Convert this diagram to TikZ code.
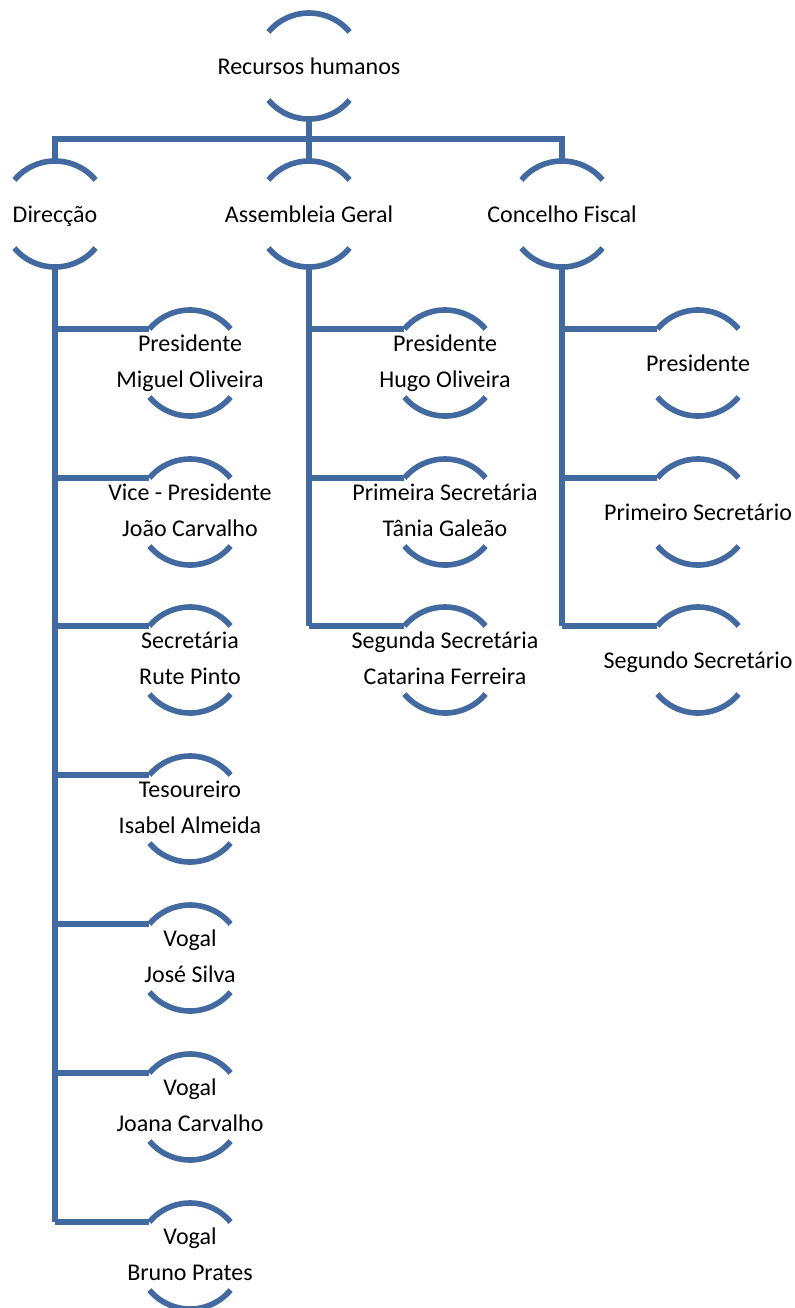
\documentclass[tikz,border=0pt]{standalone}
\usepackage{fontspec}
\setmainfont{Carlito}
\usepackage{tikz}
\usetikzlibrary{positioning}
\definecolor{blue}{RGB}{66,106,160}
\newcommand{\midstrut}{\rule[-2pt]{0pt}{12.6pt}}

\begin{document}
\begin{tikzpicture}[x=0.5pt, y=0.5pt,
  line/.style={blue, line width=2.8pt},
  circ/.style={circle, inner sep=0pt, outer sep=0pt, minimum size=53pt},
  txt/.style={label={[align=center, inner sep=0pt, font=\fontsize{12}{18}\selectfont,
      execute at begin node=\midstrut, execute at end node=\midstrut]center:#1}}]
\useasboundingbox (0,0) rectangle (795,-1308);

% top
\node [circ, txt=Recursos humanos] (rh) at (309,-66) {};
\coordinate (bar) at (309,-139);

% second level
\node [circ, txt=Direcção] (dir) at (55,-214) {};
\node [circ, txt=Assembleia Geral] (ag) at (309,-214) {};
\node [circ, txt=Concelho Fiscal] (cf) at (562,-214) {};

% direccao
\node [circ, txt={Presidente\\Miguel Oliveira}] (dir1) at (190,-363) {};
\node [circ, txt={Vice - Presidente\\João Carvalho}] (dir2) at (190,-512) {};
\node [circ, txt={Secretária\\Rute Pinto}] (dir3) at (190,-660) {};
\node [circ, txt={Tesoureiro\\Isabel Almeida}] (dir4) at (190,-809) {};
\node [circ, txt={Vogal\\José Silva}] (dir5) at (190,-958) {};
\node [circ, txt={Vogal\\Joana Carvalho}] (dir6) at (190,-1107) {};
\node [circ, txt={Vogal\\Bruno Prates}] (dir7) at (190,-1256) {};

% assembleia
\node [circ, txt={Presidente\\Hugo Oliveira}] (ag1) at (445,-363) {};
\node [circ, txt={Primeira Secretária\\Tânia Galeão}] (ag2) at (445,-512) {};
\node [circ, txt={Segunda Secretária\\Catarina Ferreira}] (ag3) at (445,-660) {};

% concelho
\node [circ, txt=Presidente] (cf1) at (698,-363) {};
\node [circ, txt=Primeiro Secretário] (cf2) at (698,-512) {};
\node [circ, txt=Segundo Secretário] (cf3) at (698,-660) {};

% arcs
\foreach \n in {rh,dir,ag,cf,dir1,dir2,dir3,dir4,dir5,dir6,dir7,ag1,ag2,ag3,cf1,cf2,cf3}
  \draw [line] (\n.40) arc[start angle=40, end angle=140, radius=26.5pt]
               (\n.220) arc[start angle=220, end angle=320, radius=26.5pt];

% connectors
\draw [line] (rh.south) -- (bar);
\draw [line] (dir.north) |- (bar) -| (cf.north);
\draw [line] (bar) -- (ag.north);

\draw [line] (dir.south) -- (dir.south |- dir7.140);
\foreach \i in {1,...,7}
  \draw [line] (dir.south |- dir\i.140) -- (dir\i.140);

\draw [line] (ag.south) -- (ag.south |- ag3.140);
\foreach \i in {1,2,3}
  \draw [line] (ag.south |- ag\i.140) -- (ag\i.140);

\draw [line] (cf.south) -- (cf.south |- cf3.140);
\foreach \i in {1,2,3}
  \draw [line] (cf.south |- cf\i.140) -- (cf\i.140);
\end{tikzpicture}
\end{document}
